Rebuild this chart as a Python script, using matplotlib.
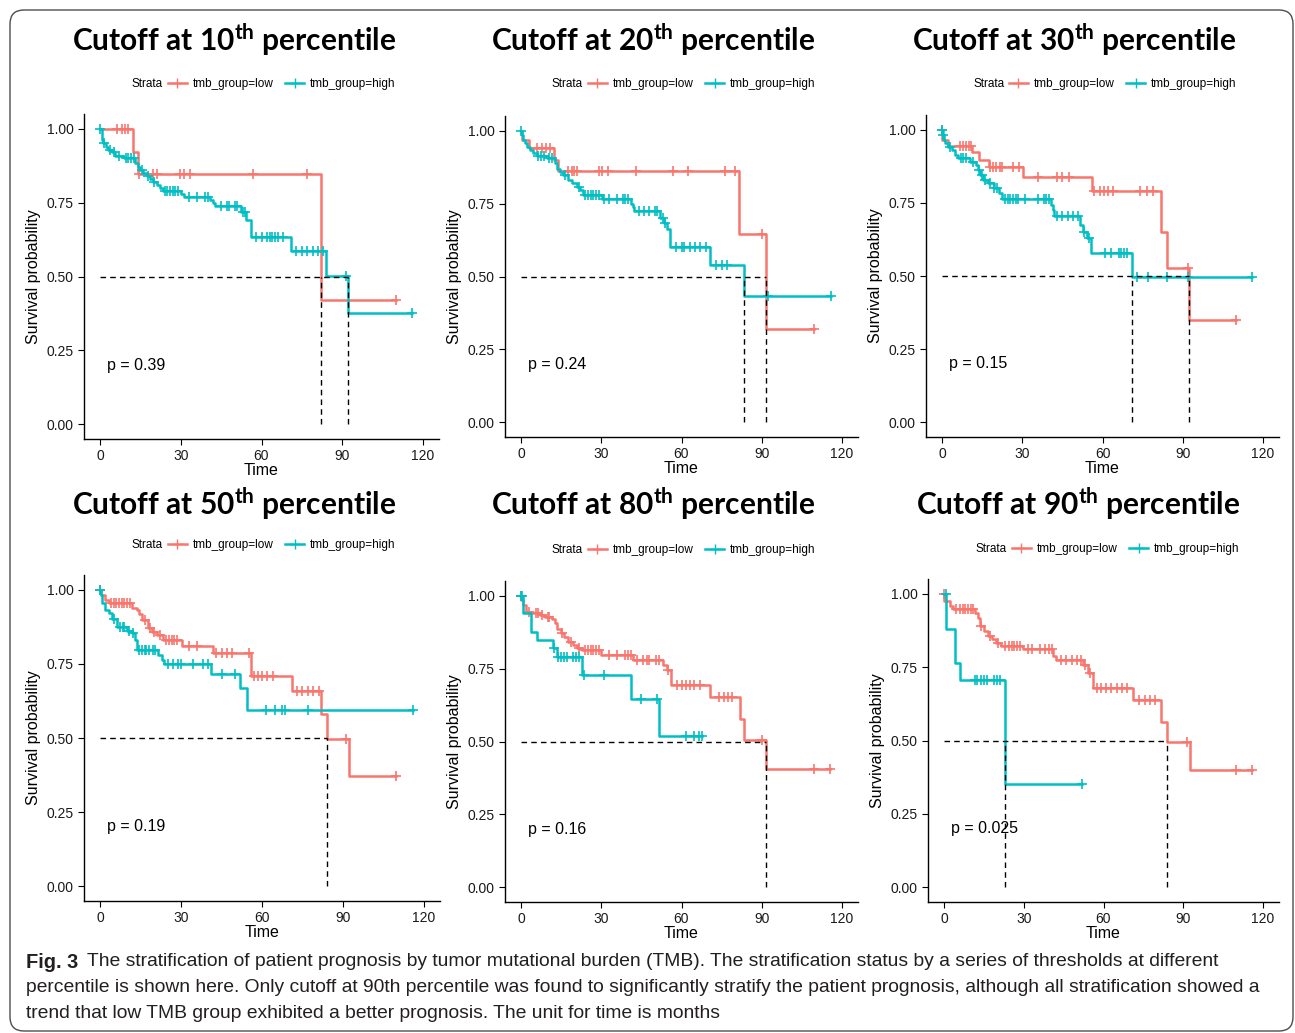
import numpy as np
import matplotlib
matplotlib.use("Agg")
import matplotlib.pyplot as plt
from matplotlib.lines import Line2D
from matplotlib.patches import FancyBboxPatch
from matplotlib.transforms import IdentityTransform

plt.rcParams['font.family'] = ['Liberation Sans', 'DejaVu Sans']
plt.rcParams['mathtext.fontset'] = 'custom'
plt.rcParams['mathtext.bf'] = 'Lato:bold'
plt.rcParams['mathtext.rm'] = 'Lato:bold'

RED = '#F8766D'
CYAN = '#00BFC4'

# ---- data (months, survival probability) ----
# step times / survival after each step / censor times
p10_low_t = [12.1, 14.2, 82.0]
p10_low_s = [0.923, 0.848, 0.421]
p10_low_c = [6.2, 8.0, 9.3, 10.5, 14.5, 19.8, 21.0, 29.7, 31.0, 33.4, 56.9, 77.0, 110.0]
p10_high_t = [0.6, 1.2, 2.2, 3.1, 4.3, 5.6, 8.7, 13.0, 13.9, 14.8, 16.1, 17.3, 18.6, 19.6,
              21.0, 22.3, 23.5, 29.9, 31.0, 41.0, 42.0, 42.7, 52.2, 54.4, 56.0, 70.8, 84.0, 92.2]
p10_high_s = [0.963, 0.951, 0.938, 0.929, 0.92, 0.909, 0.90, 0.885, 0.87, 0.86, 0.85, 0.84,
              0.83, 0.82, 0.81, 0.80, 0.79, 0.78, 0.77, 0.76, 0.75, 0.74, 0.72, 0.692, 0.635,
              0.585, 0.503, 0.377]
p10_high_c = [0.0, 1.5, 3.5, 5.0, 7.0, 9.5, 10.5, 11.5, 12.5, 15.5, 17.8, 20.0, 24.0, 25.0,
              26.0, 27.0, 28.0, 29.0, 33.0, 36.0, 39.0, 40.0, 45.0, 47.0, 48.0, 50.0, 51.0,
              53.0, 54.0, 58.0, 60.0, 62.0, 63.0, 64.0, 65.0, 66.0, 68.0, 73.0, 75.0, 77.0,
              79.0, 81.0, 83.0, 91.5, 116.0]

p20_low_t = [0.2, 3.1, 12.3, 14.0, 81.6, 91.7]
p20_low_s = [0.968, 0.939, 0.90, 0.863, 0.644, 0.321]
p20_low_c = [5.9, 7.7, 9.3, 10.8, 17.7, 19.0, 19.8, 20.8, 29.0, 30.2, 32.7, 43.0, 56.8,
             62.6, 76.3, 80.0, 90.0, 109.6]
p20_high_t = [0.3, 0.9, 1.5, 2.1, 3.4, 4.6, 5.9, 9.6, 12.7, 13.6, 14.6, 15.8, 17.7, 19.0,
              20.8, 22.0, 23.0, 30.2, 41.0, 41.7, 42.3, 52.0, 53.3, 54.5, 55.8, 70.7, 83.5]
p20_high_s = [0.985, 0.968, 0.956, 0.943, 0.934, 0.922, 0.913, 0.905, 0.888, 0.87, 0.859,
              0.848, 0.83, 0.819, 0.808, 0.796, 0.779, 0.767, 0.75, 0.739, 0.725, 0.70,
              0.682, 0.664, 0.60, 0.538, 0.432]
p20_high_c = [0.0, 6.5, 7.5, 8.5, 10.5, 11.5, 16.5, 21.5, 24.0, 25.0, 26.0, 27.0, 28.0,
              29.0, 31.0, 33.0, 36.0, 38.0, 39.0, 40.0, 44.0, 46.0, 48.0, 50.0, 51.0, 53.0,
              54.0, 58.0, 60.0, 61.0, 63.0, 65.0, 67.0, 69.0, 73.0, 75.0, 77.0, 92.5, 116.0]

p30_low_t = [0.1, 2.1, 11.2, 13.7, 17.4, 30.1, 56.0, 81.8, 84.2, 92.3]
p30_low_s = [0.966, 0.943, 0.922, 0.897, 0.874, 0.837, 0.791, 0.651, 0.526, 0.351]
p30_low_c = [0.0, 6.8, 8.0, 9.0, 10.0, 11.0, 18.0, 19.0, 20.0, 21.5, 22.5, 26.7, 28.6,
             36.0, 42.9, 44.8, 47.3, 57.0, 59.0, 60.5, 62.0, 64.0, 74.0, 76.5, 79.0, 91.8,
             109.8]
p30_high_t = [0.2, 0.6, 1.2, 2.1, 3.7, 4.7, 6.0, 10.6, 12.8, 13.3, 14.3, 15.5, 17.0, 19.3,
              21.2, 22.4, 40.8, 41.5, 41.9, 51.6, 52.6, 54.1, 55.6, 70.9]
p30_high_s = [0.983, 0.966, 0.954, 0.941, 0.929, 0.914, 0.903, 0.891, 0.88, 0.863, 0.846,
              0.829, 0.817, 0.80, 0.783, 0.762, 0.743, 0.726, 0.705, 0.674, 0.651, 0.629,
              0.577, 0.497]
p30_high_c = [0.0, 0.5, 3.0, 7.0, 8.0, 9.0, 11.5, 14.0, 15.0, 16.0, 18.0, 19.5, 20.5, 23.5,
              24.5, 25.5, 26.5, 27.5, 28.5, 31.0, 36.0, 38.0, 39.0, 40.0, 43.0, 45.0, 47.0,
              49.0, 51.0, 53.0, 55.0, 61.0, 63.0, 66.0, 67.0, 68.0, 69.0, 73.0, 77.0, 84.0,
              92.0, 116.0]

p50_low_t = [0.2, 1.9, 3.1, 11.7, 13.6, 14.5, 15.4, 17.9, 19.2, 21.0, 23.4, 30.2, 41.9,
             56.1, 71.3, 82.0, 84.1, 92.3]
p50_low_s = [0.983, 0.966, 0.955, 0.94, 0.932, 0.919, 0.899, 0.87, 0.856, 0.848, 0.83,
             0.811, 0.786, 0.709, 0.66, 0.581, 0.495, 0.373]
p50_low_c = [0.0, 4.0, 5.0, 6.0, 7.0, 8.0, 9.0, 10.0, 11.0, 16.5, 18.5, 20.0, 22.0, 24.5,
             25.5, 26.5, 27.5, 28.5, 33.0, 36.0, 43.0, 45.0, 47.0, 49.0, 55.3, 57.0, 58.5,
             60.0, 62.0, 64.0, 73.0, 75.0, 77.0, 79.0, 81.0, 91.3, 109.8]
p50_high_t = [0.3, 0.6, 1.9, 3.1, 4.3, 6.2, 9.9, 11.7, 13.0, 13.6, 21.6, 22.8, 23.7, 41.0,
              51.8, 54.3]
p50_high_s = [0.983, 0.955, 0.932, 0.921, 0.90, 0.874, 0.861, 0.854, 0.831, 0.797, 0.78,
              0.764, 0.75, 0.716, 0.668, 0.595]
p50_high_c = [0.0, 5.0, 7.5, 8.5, 9.0, 10.5, 12.0, 14.5, 15.5, 16.5, 17.0, 18.0, 19.5,
              20.5, 25.0, 27.0, 29.0, 30.0, 34.5, 38.0, 40.0, 45.0, 50.0, 61.5, 65.0, 67.5,
              68.5, 77.0, 116.0]

p80_low_t = [0.1, 0.9, 1.9, 4.6, 7.1, 9.0, 11.5, 12.7, 13.6, 14.8, 16.0, 17.7, 19.3, 20.8,
             22.7, 29.8, 41.8, 53.0, 54.5, 56.0, 70.7, 81.7, 83.2, 91.7]
p80_low_s = [0.985, 0.968, 0.945, 0.939, 0.934, 0.928, 0.919, 0.905, 0.884, 0.871, 0.859,
             0.842, 0.83, 0.819, 0.813, 0.796, 0.779, 0.762, 0.745, 0.693, 0.653, 0.578,
             0.506, 0.407]
p80_low_c = [0.0, 3.0, 5.5, 6.5, 8.0, 10.0, 10.5, 15.5, 18.5, 21.5, 24.0, 25.0, 26.0, 27.0,
             28.0, 29.0, 33.0, 36.0, 39.0, 40.0, 41.0, 43.5, 45.5, 47.0, 48.0, 50.5, 51.5,
             55.0, 58.5, 60.0, 61.5, 63.0, 64.5, 67.0, 74.0, 76.0, 77.5, 79.0, 90.0, 109.6,
             115.6]
p80_high_t = [0.6, 3.6, 5.9, 12.1, 13.6, 22.7, 41.0, 51.4]
p80_high_s = [0.942, 0.876, 0.848, 0.819, 0.788, 0.727, 0.647, 0.519]
p80_high_c = [0.0, 0.3, 12.5, 14.0, 15.0, 16.0, 17.0, 19.5, 20.5, 21.5, 23.5, 31.0, 44.7,
              51.0, 61.5, 64.5, 66.5, 67.6]

p90_low_t = [0.2, 2.1, 3.4, 11.5, 12.7, 13.4, 14.9, 16.6, 18.2, 19.7, 21.6, 29.7, 41.0,
             42.3, 52.3, 54.2, 56.0, 71.1, 81.8, 83.9, 92.4]
p90_low_s = [0.975, 0.958, 0.949, 0.935, 0.918, 0.889, 0.872, 0.857, 0.844, 0.832, 0.823,
             0.81, 0.789, 0.773, 0.758, 0.73, 0.678, 0.639, 0.564, 0.496, 0.399]
p90_low_c = [0.0, 4.5, 6.0, 7.0, 8.0, 9.0, 10.0, 11.0, 14.0, 17.5, 20.5, 23.0, 24.5, 25.5,
             26.5, 27.5, 28.5, 31.5, 33.0, 36.0, 38.0, 39.5, 40.5, 44.0, 46.0, 48.0, 50.0,
             51.5, 53.0, 55.0, 57.5, 59.0, 61.0, 63.0, 65.0, 67.0, 69.0, 73.5, 75.5, 77.5,
             79.5, 91.5, 110.0, 116.0]
p90_high_t = [0.9, 4.3, 5.9, 23.1]
p90_high_s = [0.88, 0.764, 0.707, 0.351]
p90_high_c = [0.6, 11.5, 12.5, 14.0, 15.0, 16.0, 19.0, 20.0, 21.0, 52.0]

percentiles = ['10', '20', '30', '50', '80', '90']
p_values = ['0.39', '0.24', '0.15', '0.19', '0.16', '0.025']
x_ticks = [0, 30, 60, 90, 120]
y_ticks = [0.00, 0.25, 0.50, 0.75, 1.00]

curves = [
    ((p10_low_t, p10_low_s, p10_low_c), (p10_high_t, p10_high_s, p10_high_c)),
    ((p20_low_t, p20_low_s, p20_low_c), (p20_high_t, p20_high_s, p20_high_c)),
    ((p30_low_t, p30_low_s, p30_low_c), (p30_high_t, p30_high_s, p30_high_c)),
    ((p50_low_t, p50_low_s, p50_low_c), (p50_high_t, p50_high_s, p50_high_c)),
    ((p80_low_t, p80_low_s, p80_low_c), (p80_high_t, p80_high_s, p80_high_c)),
    ((p90_low_t, p90_low_s, p90_low_c), (p90_high_t, p90_high_s, p90_high_c)),
]

# ---- layout in pixels (left, top, right, bottom) ----
W, H = 1295, 1033
axes_px = [(84, 114, 439, 439), (505, 116, 858, 437), (926, 115, 1279, 437),
           (84, 575, 440, 901), (505, 581, 858, 902), (928, 579, 1279, 902)]
title_xy = [(234, 40), (653, 40), (1074, 40), (234, 503), (653, 503), (1078, 503)]
legend_xy = [(132, 84), (552, 84), (973, 84), (132, 545), (552, 550), (976, 549)]


def step_value(times, surv, t):
    idx = np.searchsorted(times, t, side='right')
    return np.r_[1.0, surv][idx]


def draw_km(ax, times, surv, cens, color):
    times = np.asarray(times)
    surv = np.asarray(surv)
    cens = np.asarray(cens)
    end = max(times.max(), cens.max())
    ax.step(np.r_[0, times, end], np.r_[1.0, surv, surv[-1]], where='post',
            color=color, lw=1.8, zorder=3)
    ax.plot(cens, step_value(times, surv, cens), linestyle='none', marker='+',
            color=color, markersize=7, mew=1.2, zorder=3)
    below = np.where(surv <= 0.5)[0]
    return times[below[0]] if len(below) else None


fig = plt.figure(figsize=(W / 100, H / 100), dpi=100)
renderer = fig.canvas.get_renderer()

frame = FancyBboxPatch((10, 2), 1283, H - 12, boxstyle='round,pad=0,rounding_size=14',
                       transform=IdentityTransform(), facecolor='none',
                       edgecolor='#4d4d4d', lw=1.0)
fig.patches.append(frame)

for i, (pct, pval) in enumerate(zip(percentiles, p_values)):
    l, t, r, b = axes_px[i]
    ax = fig.add_axes([l / W, 1 - b / H, (r - l) / W, (b - t) / H])
    (lt, ls, lc), (ht, hs, hc) = curves[i]
    medians = []
    for tt, ss, cc, col in [(lt, ls, lc, RED), (ht, hs, hc, CYAN)]:
        m = draw_km(ax, tt, ss, cc, col)
        if m is not None:
            medians.append(m)
    if medians:
        ax.plot([0, max(medians)], [0.5, 0.5], color='black', lw=1.0,
                linestyle=(0, (4, 3)), zorder=4)
        for m in medians:
            ax.plot([m, m], [0, 0.5], color='black', lw=1.0,
                    linestyle=(0, (4, 3)), zorder=4)

    ax.text(2.5, 0.2, f'p = {pval}', fontsize=11.5, ha='left', va='center')
    ax.set_xlim(-6, 126)
    ax.set_ylim(-0.05, 1.05)
    ax.set_xticks(x_ticks)
    ax.set_yticks(y_ticks)
    ax.set_yticklabels([f'{v:.2f}' for v in y_ticks])
    ax.tick_params(labelsize=10, length=4, width=0.8, color='black', labelcolor='#1a1a1a')
    for side in ['top', 'right']:
        ax.spines[side].set_visible(False)
    for side in ['left', 'bottom']:
        ax.spines[side].set_linewidth(1.0)
    ax.set_xlabel('Time', fontsize=11.5, labelpad=0)
    ax.set_ylabel('Survival probability', fontsize=11.5, labelpad=4)

    # panel title, fitted to the reference width
    tx, ty = title_xy[i]
    title = fig.text(tx / W, 1 - ty / H, r'Cutoff at ' + pct + r'$^{\mathbf{th}}$ percentile',
                     fontsize=20, fontfamily='Lato', fontweight='bold',
                     ha='center', va='center')
    w = title.get_window_extent(renderer).width
    title.set_fontsize(20 * 324 / w)

    # legend row
    lx, ly = legend_xy[i]
    fig.text(lx / W, 1 - ly / H, 'Strata', fontsize=8.5, ha='left', va='center')
    handles = [Line2D([], [], color=RED, lw=1.8, marker='+', markersize=6.5),
               Line2D([], [], color=CYAN, lw=1.8, marker='+', markersize=6.5)]
    fig.legend(handles, ['tmb_group=low', 'tmb_group=high'], loc='center left',
               bbox_to_anchor=((lx + 36) / W, 1 - ly / H), ncol=2, frameon=False,
               fontsize=8.5, handlelength=1.6, handletextpad=0.5, columnspacing=1.0,
               borderpad=0, borderaxespad=0)

# ---- caption ----
cap_font = ['Liberation Sans Narrow', 'Liberation Sans']
cap_lines = [
    'The stratification of patient prognosis by tumor mutational burden (TMB). '
    'The stratification status by a series of thresholds at different',
    'percentile is shown here. Only cutoff at 90th percentile was found to significantly '
    'stratify the patient prognosis, although all stratification showed a',
    'trend that low TMB group exhibited a better prognosis. The unit for time is months',
]
cap_y = [962, 988, 1014]
probe = fig.text(26 / W, 1 - cap_y[1] / H, cap_lines[1], fontsize=14, fontfamily=cap_font,
                 ha='left', va='center', color='#231f20')
cap_size = 14 * (1268 - 26) / probe.get_window_extent(renderer).width
probe.set_fontsize(cap_size)

fig_lbl = fig.text(26 / W, 1 - cap_y[0] / H, 'Fig. 3', fontsize=cap_size + 0.5,
                   fontfamily=cap_font, fontweight='bold', ha='left', va='center',
                   color='#231f20')
lbl_right = fig_lbl.get_window_extent(renderer).x1
fig.text((lbl_right + 9) / W, 1 - cap_y[0] / H, cap_lines[0], fontsize=cap_size,
         fontfamily=cap_font, ha='left', va='center', color='#231f20')
fig.text(26 / W, 1 - cap_y[2] / H, cap_lines[2], fontsize=cap_size,
         fontfamily=cap_font, ha='left', va='center', color='#231f20')

fig.savefig('out.png', dpi=100)
